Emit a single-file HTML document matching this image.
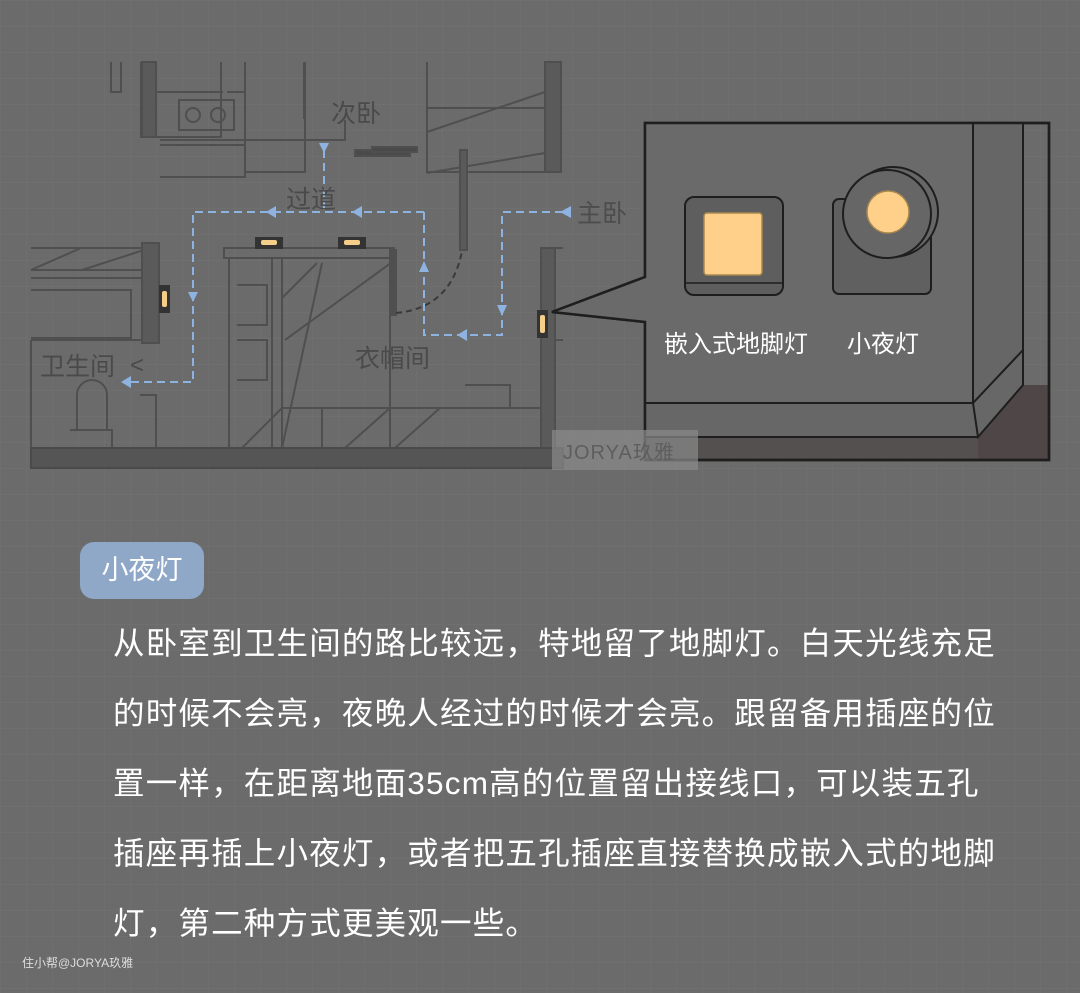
<!DOCTYPE html>
<html><head><meta charset="utf-8"><style>
body{margin:0;width:1080px;height:993px;overflow:hidden;background:#6b6b6b;font-family:"Liberation Sans","Noto Sans CJK SC",sans-serif;position:relative}
.grid{position:absolute;inset:0;background-image:linear-gradient(#727272 1px,transparent 1px),linear-gradient(90deg,#727272 1px,transparent 1px);background-size:26px 26px;opacity:.6}
svg{position:absolute;left:0;top:0}
.pill{position:absolute;left:80px;top:542px;width:124px;height:57px;border-radius:14px;background:#8fa8c8;color:#fff;font-size:27px;line-height:57px;text-align:center}
.txt{position:absolute;left:113px;color:#fff;font-size:31.5px;letter-spacing:1.2px;white-space:nowrap}
.foot{position:absolute;left:22px;top:954px;color:#ddd;font-size:12px}
</style></head><body>
<div class="grid"></div>
<svg width="1080" height="993" viewBox="0 0 1080 993">
<g fill="none" stroke="#4f4f4f" stroke-width="2">
<!-- kitchen -->
<path d="M111 62v30h10v-30M141 62v75h80v-75M141 92h82M221 62v28M245 62v30h-18M245 92v75M245 140h100v-20M304 62v57"/>
<rect x="142" y="62" width="14" height="75" fill="#5a5a5a"/>
<rect x="179" y="100" width="55" height="30"/>
<circle cx="193" cy="115" r="7"/><circle cx="218" cy="115" r="7"/>
<path d="M160 140h85v32h60v-110M160 145h85v32h-85"/>
<!-- top right -->
<path d="M427 62v110h118M427 108h118M427 132l118-40M427 173l118-20"/>
<rect x="545" y="62" width="16" height="110" fill="#5a5a5a"/>
<rect x="355" y="150" width="55" height="6" fill="#4a4a4a"/><rect x="372" y="147" width="45" height="5" fill="#4a4a4a"/>
<rect x="460" y="150" width="7" height="100" fill="#5a5a5a"/>
<!-- bathroom -->
<path d="M31 248h120M31 270h120M31 270l50-22M82 270l68-22M31 278h120M31 290h100v48H31M31 340h120M31 448V340"/>
<rect x="142" y="243" width="17" height="100" fill="#5a5a5a"/>
<path d="M77 395a13 13 0 0 1 30 0v35H77zM70 430h42v18H70M140 395h16v53h-16"/>
<!-- wardrobe -->
<path d="M224 248h170v10H224zM229 258v190M272 258v190M282 258v190M237 285h30v40h-30M237 340h30v40h-30M282 298l35-35M285 340l110-80M282 448l40-185M282 408h110M322 408v40M390 408l-45 40M440 408l-45 40M282 408l-40 40M390 258v190M465 385h45v23h-45M392 408h160"/>
<rect x="390" y="250" width="6" height="65" fill="#4f4f4f"/>
<rect x="541" y="248" width="14" height="200" fill="#5a5a5a"/>
<path d="M555 248h8M555 340h8"/>
<rect x="31" y="448" width="532" height="20" fill="#555" stroke="#4a4a4a"/>
</g>
<path d="M396 313q55 -5 66 -62" stroke="#3a3a3a" stroke-width="2" stroke-dasharray="6 4" fill="none"/>
<!-- routes -->
<g stroke="#8fb3e0" stroke-width="2" stroke-dasharray="8 5" fill="none">
<path d="M324 150v62M424 212H193v170H125M424 212v123h78v-123h60"/>
</g>
<g fill="#8fb3e0">
<path d="M319 143h10l-5 10z"/><path d="M266 212l10-6v12z"/><path d="M352 212l10-6v12z"/>
<path d="M188 292h10l-5 10z"/><path d="M121 382l10-6v12z"/>
<path d="M419 272h10l-5-11z"/><path d="M457 335l10-6v12z"/><path d="M497 305h10l-5 11z"/><path d="M560 212l11-6v12z"/>
</g>
<!-- lights -->
<g fill="#333"><rect x="255" y="237" width="28" height="12"/><rect x="338" y="237" width="28" height="12"/><rect x="159" y="285" width="11" height="28"/><rect x="537" y="310" width="11" height="28"/></g>
<g fill="#f5cf8a"><rect x="261" y="240" width="16" height="5" rx="2"/><rect x="344" y="240" width="16" height="5" rx="2"/><rect x="162" y="291" width="5" height="16" rx="2"/><rect x="540" y="315" width="5" height="18" rx="2"/></g>
<g fill="#4a4a4a" font-size="25" font-family="Liberation Sans,Noto Sans CJK SC,sans-serif">
<text x="331" y="122">次卧</text><text x="286" y="208">过道</text><text x="577" y="222" fill="#4d4d4d">主卧</text>
<text x="40" y="375">卫生间</text><text x="130" y="373" font-size="24">&lt;</text><text x="355" y="367">衣帽间</text>
</g>
<!-- callout box -->
<rect x="645" y="403" width="404" height="57" fill="#545050"/>
<path d="M978 437L1023 385H1049V460H978Z" fill="#4f4747"/>
<path d="M645 123H1049V460H645V322L552 312 645 277Z" fill="none" stroke="#1e1e1e" stroke-width="2.5"/>
<path d="M645 123H973V403H645V322L552 312 645 277Z" fill="#6a6a6a"/>
<path d="M973 123H1023V350L973 403Z" fill="#666"/>
<path d="M973 403H645V437H978L1023 385V350Z" fill="#676767"/>
<path d="M645 123H1049V460H645V322L552 312 645 277Z" fill="none" stroke="#1e1e1e" stroke-width="2.5"/>
<path d="M973 123V403M645 403H973L1023 350V123M973 403L978 437L1023 385V350M645 437H978" fill="none" stroke="#1e1e1e" stroke-width="2"/>
<rect x="685" y="197" width="98" height="98" rx="9" fill="#5e5e5e" stroke="#1e1e1e" stroke-width="2"/>
<line x1="685" y1="283" x2="783" y2="283" stroke="#1e1e1e" stroke-width="1.5"/>
<rect x="704" y="213" width="58" height="62" rx="3" fill="#ffd08a" stroke="#a88850" stroke-width="1.5"/>
<rect x="833" y="199" width="98" height="95" rx="6" fill="#606060" stroke="#1e1e1e" stroke-width="2"/>
<circle cx="893" cy="212" r="45" fill="#666" stroke="#1e1e1e" stroke-width="2"/>
<circle cx="887" cy="214" r="44" fill="#666" stroke="#1e1e1e" stroke-width="2"/>
<circle cx="888" cy="212" r="21" fill="#ffd08a" stroke="#a88850" stroke-width="1.5"/>
<g fill="#fff" font-size="24" font-family="Liberation Sans,Noto Sans CJK SC,sans-serif">
<text x="664" y="352">嵌入式地脚灯</text><text x="847" y="352">小夜灯</text></g>
<rect x="552" y="430" width="146" height="40" fill="#8a8a8a" opacity=".7"/>
<text x="563" y="459" font-size="20" fill="#5e5e5e" font-family="Liberation Sans,Noto Sans CJK SC,sans-serif" letter-spacing="1">JORYA玖雅</text>
</svg>
<div class="pill">小夜灯</div>
<div class="txt" style="top:618px">从卧室到卫生间的路比较远，特地留了地脚灯。白天光线充足</div>
<div class="txt" style="top:688px">的时候不会亮，夜晚人经过的时候才会亮。跟留备用插座的位</div>
<div class="txt" style="top:758px">置一样，在距离地面35cm高的位置留出接线口，可以装五孔</div>
<div class="txt" style="top:828px">插座再插上小夜灯，或者把五孔插座直接替换成嵌入式的地脚</div>
<div class="txt" style="top:898px">灯，第二种方式更美观一些。</div>
<div class="foot">住小帮@JORYA玖雅</div>
</body></html>
